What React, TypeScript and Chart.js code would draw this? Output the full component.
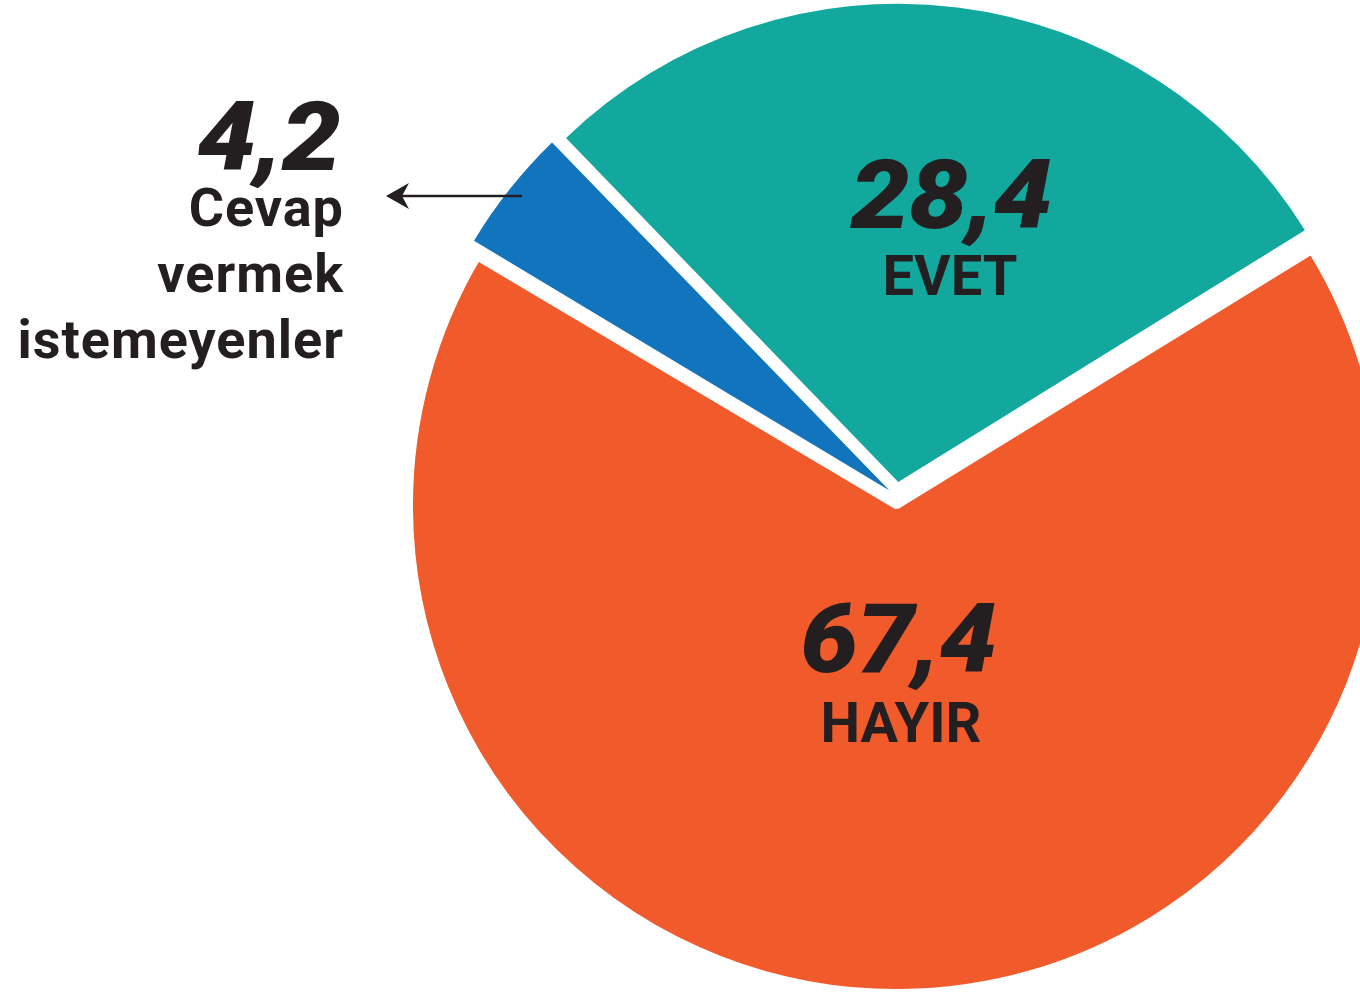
import React, { useEffect, useRef } from "react";
import { Chart, registerables } from "chart.js";

Chart.register(...registerables);

// ---- data ----
const categories = ["EVET", "HAYIR", "Cevap vermek istemeyenler"];
const values = [28.4, 67.4, 4.2];
const valueLabels = ["28,4", "67,4", "4,2"];

// ---- styles ----
const sliceColors = ["#13A89E", "#F15A2B", "#1174BC"];
const sliceOffsets = [56, 38, 36];
const sliceBorders = [0, 7.8, 0];
const textColor = "#231F20";

export default function App() {
  const canvasRef = useRef<HTMLCanvasElement | null>(null);

  useEffect(() => {
    const canvas = canvasRef.current;
    if (!canvas) return;
    const chart = new Chart(canvas, {
      type: "pie",
      data: {
        labels: categories,
        datasets: [
          {
            data: values,
            backgroundColor: sliceColors,
            borderColor: "#ffffff",
            borderWidth: sliceBorders,
            offset: sliceOffsets,
            hoverOffset: 0,
            radius: 478,
            clip: false,
          } as any,
        ],
      },
      options: {
        responsive: false,
        animation: false,
        devicePixelRatio: 1,
        rotation: -44,
        radius: 478,
        events: [],
        layout: { padding: { left: 433, right: 0, top: 0, bottom: 0 } },
        plugins: {
          legend: { display: false },
          tooltip: { enabled: false },
        },
      } as any,
    });
    return () => chart.destroy();
  }, []);

  const numStyle: React.CSSProperties = {
    position: "absolute",
    fontFamily: "Roboto, 'Noto Sans', sans-serif",
    fontWeight: 900,
    fontStyle: "italic",
    fontSize: 96,
    lineHeight: "96px",
    color: textColor,
    whiteSpace: "nowrap",
    letterSpacing: "-1px",
  };
  const lblStyle: React.CSSProperties = {
    position: "absolute",
    fontFamily: "Roboto, 'Noto Sans', sans-serif",
    fontWeight: 700,
    fontSize: 56,
    lineHeight: "56px",
    color: textColor,
    whiteSpace: "nowrap",
  };

  return (
    <div
      style={{
        position: "absolute",
        left: 0,
        top: 0,
        width: 1360,
        height: 992,
        overflow: "hidden",
        background: "#ffffff",
      }}
    >
      <canvas
        ref={canvasRef}
        width={1360}
        height={992}
        style={{ position: "absolute", left: 0, top: 0, width: 1360, height: 992 }}
      />
      {/* EVET */}
      <div
        style={{
          ...numStyle,
          left: 751,
          width: 400,
          top: 147,
          textAlign: "center",
          transform: "scaleX(1.1)",
          transformOrigin: "center",
        }}
      >
        {valueLabels[0]}
      </div>
      <div style={{ ...lblStyle, left: 750, width: 400, top: 248, textAlign: "center" }}>
        {categories[0]}
      </div>
      {/* HAYIR */}
      <div
        style={{
          ...numStyle,
          left: 698,
          width: 400,
          top: 591,
          textAlign: "center",
          transform: "scaleX(1.07)",
          transformOrigin: "center",
        }}
      >
        {valueLabels[1]}
      </div>
      <div style={{ ...lblStyle, left: 701, width: 400, top: 695, textAlign: "center" }}>
        {categories[1]}
      </div>
      {/* Cevap vermek istemeyenler */}
      <div
        style={{
          ...numStyle,
          left: 0,
          width: 340,
          top: 89,
          textAlign: "right",
          transform: "scaleX(1.1)",
          transformOrigin: "right",
        }}
      >
        {valueLabels[2]}
      </div>
      <div
        style={{
          position: "absolute",
          left: 0,
          width: 344,
          top: 175,
          textAlign: "right",
          fontFamily: "Roboto, 'Noto Sans', sans-serif",
          fontWeight: 700,
          fontSize: 54,
          lineHeight: "66px",
          letterSpacing: "1px",
          color: textColor,
        }}
      >
        Cevap
        <br />
        vermek
        <br />
        istemeyenler
      </div>
      <svg
        width={1360}
        height={992}
        style={{ position: "absolute", left: 0, top: 0, pointerEvents: "none" }}
      >
        <line x1={396} y1={196} x2={522} y2={196} stroke={textColor} strokeWidth={2.5} />
        <polygon points="386,196 409,183 402,196 409,209" fill={textColor} />
      </svg>
    </div>
  );
}
